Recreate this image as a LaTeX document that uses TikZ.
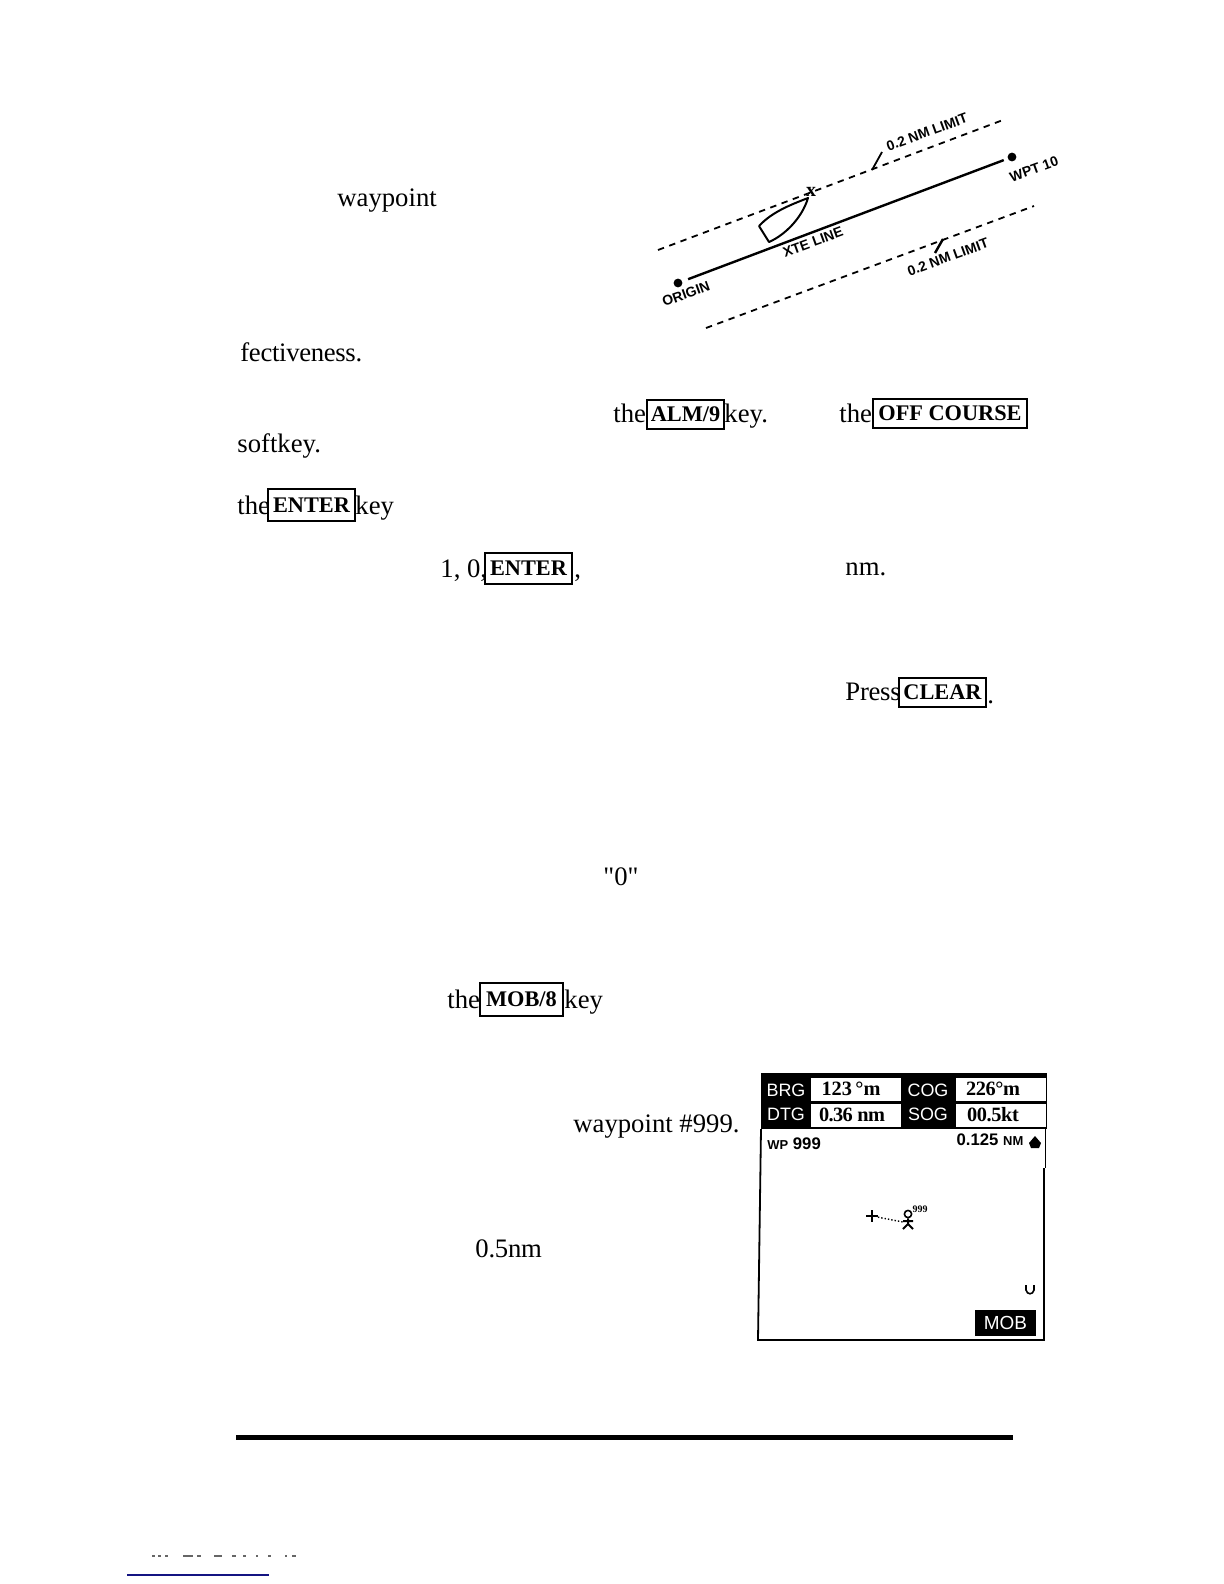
\documentclass[tikz,border=0pt]{standalone}
\usepackage{fontspec}
\setmainfont{Liberation Serif}
\newfontfamily\plotfont{Liberation Sans}
\newfontfamily\quotefont{Liberation Serif}
\usetikzlibrary{positioning}

\definecolor{linkblue}{RGB}{20,20,130}

\tikzset{
    bodytext/.style={anchor=base west,inner sep=0pt,font=\fontsize{13.4}{16}\selectfont},
    keybox/.style={draw,line width=1.1bp,inner sep=0pt,font=\fontsize{11.2}{13}\selectfont\bfseries},
    plotlabel/.style={inner sep=0pt,rotate=20,font=\fontsize{7}{8}\selectfont\plotfont\bfseries},
    limitline/.style={line width=.9bp,dash pattern=on 3.2bp off 2.8bp},
    plotdot/.style={circle,fill,inner sep=0pt,minimum size=4.4bp},
    tagcell/.style={inner sep=0pt,text=white,font=\fontsize{9}{11}\selectfont\plotfont},
    valcell/.style={fill=white,inner sep=0pt,minimum width=45bp,minimum height=11.5bp,text=black,font=\fontsize{10.2}{12}\selectfont\bfseries},
    scrtext/.style={inner sep=0pt,font=\fontsize{8.4}{10}\selectfont\plotfont\bfseries},
}

\begin{document}
\begin{tikzpicture}[x=.5bp,y=-.5bp]
    \useasboundingbox (0,0) rectangle (1224,1584);

    % text that is left on the page
    \node[bodytext]  (waypointa)  at (337,206)   {waypoint};
    \node[bodytext]  (fect)       at (240,361)   {\addfontfeature{LetterSpace=-1.2}fectiveness.};
    \node[bodytext]  (thea)       at (613,422)   {the};
    \node[keybox,minimum width=38.5bp,minimum height=14.5bp] (alm) at (685.5,414.5) {ALM/9};
    \node[bodytext]  (keya)       at (724,422)   {key.};
    \node[bodytext]  (theb)       at (839,422)   {the};
    \node[keybox,minimum width=77bp,minimum height=14.5bp]   (off) at (950,413.5)   {OFF COURSE};
    \node[bodytext]  (soft)       at (237,452)   {softkey.};
    \node[bodytext]  (thec)       at (237,514)   {the};
    \node[keybox,minimum width=43.5bp,minimum height=16bp]   (entera) at (311.5,505) {ENTER};
    \node[bodytext]  (keyb)       at (355,514)   {key};
    \node[bodytext]  (digits)     at (440,577)   {1, 0,};
    \node[keybox,minimum width=43.5bp,minimum height=15.5bp] (enterb) at (528.5,568.5) {ENTER};
    \node[bodytext]  (comma)      at (574,577)   {,};
    \node[bodytext]  (nm)         at (845,575)   {nm.};
    \node[bodytext]  (press)      at (845,700)   {\addfontfeature{LetterSpace=-1}Press};
    \node[keybox,minimum width=43.5bp,minimum height=14.5bp] (clear) at (942.5,692.5) {CLEAR};
    \node[bodytext]  (stop)       at (987,703)   {.};
    \node[bodytext]  (zero)       at (603,885)   {\quotefont "0"};
    \node[bodytext]  (thed)       at (447,1008)  {the};
    \node[keybox,minimum width=41.5bp,minimum height=16.5bp] (mob) at (521.5,999.5) {MOB/8};
    \node[bodytext]  (keyc)       at (564,1008)  {key};
    \node[bodytext]  (waypointb)  at (573,1132)  {waypoint \#999.};
    \node[bodytext]  (half)       at (475,1257)  {\addfontfeature{LetterSpace=-1}0.5nm};

    % xte plot
    \node[plotdot]   (origin)  at (678,283)  {};
    \node[plotdot]   (wpt)     at (1012,157) {};
    \coordinate      (upa)     at (658,250);
    \coordinate      (upb)     at (1003,120);
    \coordinate      (lowa)    at (706,328);
    \coordinate      (lowb)    at (1034,206);
    \coordinate      (upleada) at (882,152);
    \coordinate      (upleadb) at (872,170);
    \coordinate      (lowleada) at (943,239);
    \coordinate      (lowleadb) at (935,253);

    \draw[line width=1.2bp,shorten <=3bp,shorten >=2bp] (origin) -- (wpt);
    \draw[limitline] (upa) -- (upb);
    \draw[limitline] (lowa) -- (lowb);
    \draw[line width=.9bp] (upleada) -- (upleadb);
    \draw[line width=1.2bp] (lowleada) -- (lowleadb);

    % the boat
    \draw[line width=1bp,line join=round] (759,226) -- (769,242)
        .. controls (785,235) and (802,218) .. (808,198)
        .. controls (790,205) and (772,212) .. (759,226);
    \node[inner sep=0pt,font=\fontsize{10}{10}\selectfont\bfseries] (mark) at (811,192) {x};

    \node[plotlabel] (uplabel)   at (927,132) {0.2 NM LIMIT};
    \node[plotlabel] (lowlabel)  at (948,257) {0.2 NM LIMIT};
    \node[plotlabel] (xtelabel)  at (813,242) {XTE LINE};
    \node[plotlabel] (orglabel)  at (686,294) {ORIGIN};
    \node[plotlabel] (wptlabel)  at (1034,169) {WPT 10};

    % mob screen
    \fill (761,1073) rectangle (1047,1129);
    \draw[line width=.9bp] (761,1129) -- (758,1340) -- (1044,1340) -- (1044,1168);
    \draw[line width=.5bp] (1045,1129) -- (1045,1168);

    \node[tagcell]  (brg)   at (786,1090) {BRG};
    \node[tagcell]  (dtg)   at (786,1114) {DTG};
    \node[tagcell]  (cog)   at (928,1090) {COG};
    \node[tagcell]  (sog)   at (928,1114) {SOG};
    \node[valcell]  (brgv)  at (856,1089) {123\,°m\kern5bp};
    \node[valcell]  (dtgv)  at (856,1115) {\addfontfeature{LetterSpace=-3}0.36 nm\kern4bp};
    \node[valcell]  (cogv)  at (1001,1089) {\addfontfeature{LetterSpace=-2}226°m\kern8bp};
    \node[valcell]  (sogv)  at (1001,1115) {\addfontfeature{LetterSpace=-2}00.5kt\kern8bp};

    \node[scrtext,anchor=west]  (wpname)  at (767,1144) {{\fontsize{6.5}{8}\selectfont WP} 999};
    \node[scrtext]              (range)   at (990,1140) {0.125 {\fontsize{6.5}{8}\selectfont NM}};
    \fill (1035,1136) -- (1041,1143) -- (1039,1148) -- (1031,1148) -- (1029,1143) -- cycle;

    \node[inner sep=0pt,minimum size=5.5bp] (cross) at (872,1216) {};
    \draw[line width=1.1bp] (cross.west) -- (cross.east);
    \draw[line width=1.1bp] (cross.north) -- (cross.south);
    \node[draw,circle,line width=.8bp,inner sep=0pt,minimum size=3.6bp] (head) at (908,1214) {};
    \coordinate (hip) at (908,1224);
    \draw[line width=.7bp,densely dotted] (cross) -- (903,1222);
    \draw[line width=1bp] (head) -- (hip) -- (903,1229) (hip) -- (913,1229) (903,1221) -- (913,1221);
    \node[inner sep=0pt,font=\fontsize{5}{5}\selectfont\bfseries] (tag) at (920,1209) {999};

    \draw[line width=.8bp] (1026,1285) -- (1026,1290) .. controls (1027,1295) and (1033,1295) .. (1034,1290) -- (1034,1285);

    \node[fill=black,text=white,inner sep=0pt,minimum width=30.5bp,minimum height=13bp,font=\fontsize{9.5}{11}\selectfont\plotfont] (mobtag) at (1005.5,1323) {MOB};

    % rule and page foot
    \fill (236,1435) rectangle (1013,1440);
    \foreach \xa/\xb in {152/155,158/161,165/168,183/193,197/201,214/222,232/236,243/246,256/258,268/271,285/287,292/296}
        \draw[line width=.7bp,black!60] (\xa,1556) -- (\xb,1556);
    \draw[line width=.6bp,linkblue] (127,1575) -- (269,1575);
\end{tikzpicture}
\end{document}
